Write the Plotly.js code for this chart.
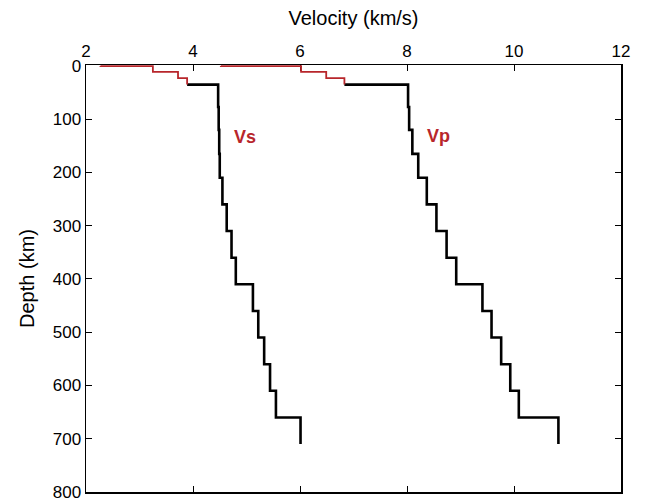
<!DOCTYPE html>
<html>
<head>
<meta charset="utf-8">
<script src="https://cdn.plot.ly/plotly-3.0.1.min.js"></script>
<style>html,body{margin:0;padding:0;background:#fff;}#chart{width:648px;height:501px;}</style>
</head>
<body>
<div id="chart"></div>
<script>
// Crustal layers (red): boundaries in km, velocities in km/s
const crustDepth = [0, 0.5, 11, 23, 35];
const vsCrust = [2.27, 3.25, 3.72, 3.89];
const vpCrust = [4.52, 6.02, 6.49, 6.83];

// Mantle layers (black): boundaries in km, velocities in km/s
const mantleDepth = [35, 77, 120, 165, 210, 260, 310, 360, 410, 460, 510, 560, 610, 660, 710];
const vsMantle = [4.47, 4.48, 4.49, 4.50, 4.55, 4.63, 4.72, 4.80, 5.12, 5.22, 5.33, 5.44, 5.55, 6.01];
const vpMantle = [8.02, 8.04, 8.10, 8.21, 8.37, 8.55, 8.74, 8.92, 9.41, 9.58, 9.76, 9.93, 10.09, 10.83];

const xTicks = [2, 4, 6, 8, 10, 12];
const yTicks = [0, 100, 200, 300, 400, 500, 600, 700, 800];

function steps(depths, vels, startV, startD) {
  const x = [], y = [];
  if (startV !== undefined) { x.push(startV); y.push(startD); }
  for (let i = 0; i < vels.length; i++) {
    x.push(vels[i]); y.push(depths[i]);
    x.push(vels[i]); y.push(depths[i + 1]);
  }
  return {x, y};
}

const red = '#b8262b';
const vsC = steps(crustDepth, vsCrust);
const vpC = steps(crustDepth, vpCrust);
const vsM = steps(mantleDepth, vsMantle, vsCrust[vsCrust.length - 1], mantleDepth[0]);
const vpM = steps(mantleDepth, vpMantle, vpCrust[vpCrust.length - 1], mantleDepth[0]);

const traces = [
  {x: vsM.x, y: vsM.y, mode: 'lines', line: {color: '#000', width: 2.6}, cliponaxis: false, hoverinfo: 'skip'},
  {x: vpM.x, y: vpM.y, mode: 'lines', line: {color: '#000', width: 2.6}, cliponaxis: false, hoverinfo: 'skip'},
  {x: vsC.x, y: vsC.y, mode: 'lines', line: {color: red, width: 1.8}, cliponaxis: false, hoverinfo: 'skip'},
  {x: vpC.x, y: vpC.y, mode: 'lines', line: {color: red, width: 1.8}, cliponaxis: false, hoverinfo: 'skip'}
];

const font = 'Liberation Sans, Arial, Helvetica, sans-serif';
const layout = {
  width: 648, height: 501,
  margin: {l: 86, r: 27, t: 65, b: 9},
  paper_bgcolor: '#fff', plot_bgcolor: '#fff',
  showlegend: false,
  font: {family: font, size: 17, color: '#000'},
  xaxis: {
    side: 'top', range: [2, 12], tickvals: xTicks, ticktext: xTicks.map(String),
    ticks: 'inside', ticklen: 6, tickwidth: 1, tickcolor: '#000',
    showline: true, linecolor: '#000', linewidth: 1.5, mirror: 'ticks',
    showgrid: false, zeroline: false, layer: 'below traces',
    tickfont: {size: 17, family: font},
    title: {text: 'Velocity (km/s)', font: {size: 20, family: font}, standoff: 10}
  },
  yaxis: {
    range: [800, -1.8], tickvals: yTicks, ticktext: yTicks.map(String),
    ticks: 'inside', ticklen: 6, tickwidth: 1, tickcolor: '#000',
    showline: true, linecolor: '#000', linewidth: 1.5, mirror: 'ticks',
    showgrid: false, zeroline: false, layer: 'below traces',
    ticklabeloverflow: 'allow',
    tickfont: {size: 17, family: font},
    title: {text: 'Depth (km)', font: {size: 20, family: font}, standoff: 12}
  },
  annotations: [
    {x: 4.97, y: 133, text: '<b>Vs</b>', showarrow: false, font: {size: 18, color: red, family: font}},
    {x: 8.59, y: 131, text: '<b>Vp</b>', showarrow: false, font: {size: 18, color: red, family: font}}
  ]
};

Plotly.newPlot('chart', traces, layout, {staticPlot: true, displayModeBar: false});
</script>
</body>
</html>
